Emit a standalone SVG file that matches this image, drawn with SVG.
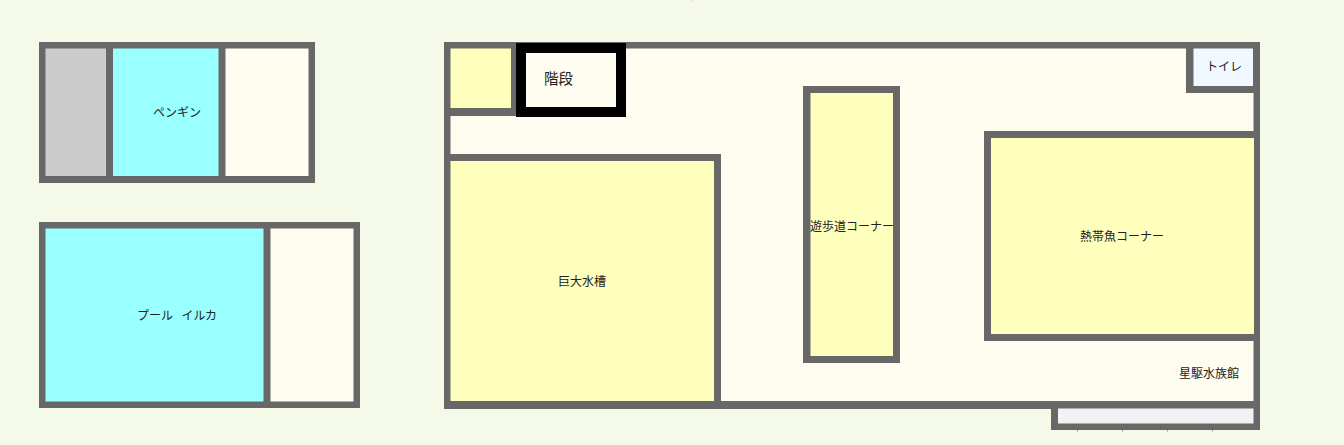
<svg xmlns="http://www.w3.org/2000/svg" width="1344" height="445" viewBox="0 0 1344 445">
<style>
.w{fill:#686868}
.c{fill:#fffcf0}
.y{fill:#ffffbd}
.b{fill:#99ffff}
text{font-family:"Noto Sans CJK JP","Noto Sans",sans-serif;font-size:12px;fill:#222}
</style>
<rect width="1344" height="445" fill="#f5f9e8"/>
<rect x="692" y="0" width="1" height="2" fill="#e8d8a8"/>
<g id="penguin-block">
<rect class="w" x="39" y="42" width="276" height="141"/>
<rect x="45.500" y="48.500" width="60.500" height="127.500" fill="#cccccc"/>
<rect class="b" x="113" y="48.500" width="105.500" height="127.500"/>
<rect class="c" x="225.500" y="48.500" width="83" height="127.500"/>
<text x="153" y="117">ペンギン</text>
</g>
<g id="dolphin-block">
<rect class="w" x="39" y="222" width="321" height="186"/>
<rect class="b" x="45.500" y="228.500" width="218" height="173"/>
<rect class="c" x="270.500" y="228.500" width="83" height="173"/>
<text x="137" y="320" xml:space="preserve" style="word-spacing:1.500px">プール  イルカ</text>
</g>
<g id="aquarium">
<rect class="w" x="444" y="42" width="816" height="367"/>
<rect class="c" x="450.500" y="48.500" width="803" height="352.500"/>
</g>
<g id="annex">
<rect class="w" x="1051" y="401" width="209" height="29"/>
<rect x="1058" y="408.500" width="195.500" height="15" fill="#f2f2f2"/>
<path d="M1077 430h1v1.500h-1zM1122 430h1v1.500h-1zM1167 430h1v1.500h-1zM1212 430h1v1.500h-1z" fill="#9a9a9a"/>
</g>
<g id="small-tank">
<rect class="w" x="444" y="42" width="74" height="74"/>
<rect class="y" x="450.500" y="48.500" width="60.500" height="59.500"/>
</g>
<g id="stairs">
<rect x="516" y="43" width="110" height="74" fill="#000"/>
<rect class="c" x="526" y="53" width="90" height="54"/>
<text x="544" y="84" style="font-size:14.500px">階段</text>
</g>
<g id="giant-tank">
<rect class="w" x="444" y="154" width="277" height="255"/>
<rect class="y" x="450.500" y="161" width="263.500" height="240"/>
<text x="558" y="286">巨大水槽</text>
</g>
<g id="walkway-corner">
<rect class="w" x="803" y="86" width="97" height="277"/>
<rect class="y" x="810.500" y="93" width="82.500" height="263"/>
<text x="810" y="231">遊歩道コーナー</text>
</g>
<g id="tropical-corner">
<rect class="w" x="984" y="131" width="276" height="210"/>
<rect class="y" x="991" y="138" width="263" height="196"/>
<text x="1080" y="241">熱帯魚コーナー</text>
</g>
<g id="toilet">
<rect class="w" x="1186" y="42" width="74" height="51"/>
<rect x="1193.500" y="48.500" width="59.500" height="37.500" fill="#f0f9ff"/>
<text x="1206" y="71">トイレ</text>
</g>
<g id="aquarium-label">
<text x="1179" y="378">星駆水族館</text>
</g>
<g id="connectors"></g>
</svg>
